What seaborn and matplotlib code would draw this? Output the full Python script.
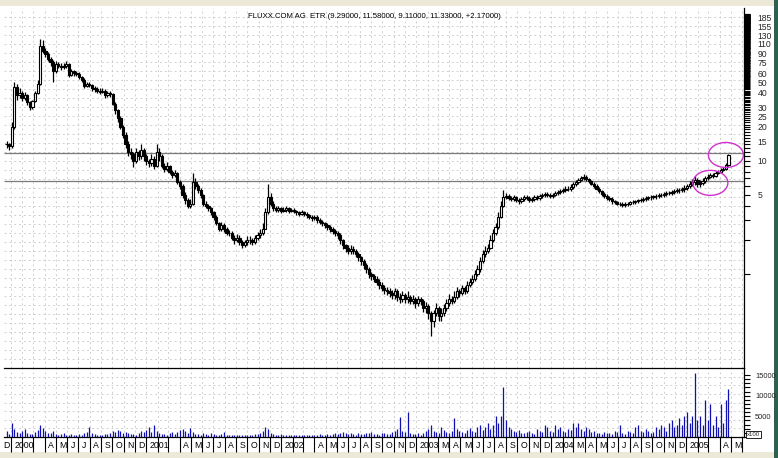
import matplotlib
matplotlib.use("Agg")
import matplotlib.pyplot as plt
import matplotlib.transforms as mtransforms
from matplotlib.patches import Ellipse, Rectangle
from matplotlib.ticker import FixedLocator, FixedFormatter, NullFormatter
import pandas as pd
import seaborn as sns

title = "FLUXX.COM AG  ETR (9.29000, 11.58000, 9.11000, 11.33000, +2.17000)"
first_week = "1999-12-20"

# weekly closes (last bar from the title line)
closes = [
    14, 13.5, 20, 45, 38, 40, 36, 38, 33, 30,
    34, 40, 48, 105, 95, 88, 80, 75, 62, 72,
    70, 68, 70, 72, 58, 62, 60, 59, 55, 52,
    46, 48, 47, 44, 43, 42, 41, 42, 38, 40,
    39, 32, 28, 24, 20, 17, 14, 12, 11.5, 10,
    12, 11, 12.5, 11, 10, 9.5, 10.5, 9, 12, 11,
    9, 8.5, 9, 8, 7.5, 7.8, 6.5, 6, 5, 4.5,
    4, 4.2, 6.5, 6, 5.5, 5, 4.2, 4, 3.8, 3.5,
    3.2, 2.8, 2.5, 2.7, 2.5, 2.3, 2.3, 2.1, 2.0, 2.1,
    1.9, 1.8, 1.9, 2.0, 2.0, 1.9, 2.1, 2.2, 2.3, 2.5,
    3.5, 4.8, 4.2, 3.8, 3.7, 3.8, 3.6, 3.7, 3.8, 3.6,
    3.7, 3.6, 3.5, 3.4, 3.5, 3.4, 3.3, 3.2, 3.1, 3.2,
    3.0, 2.9, 2.8, 2.7, 2.6, 2.5, 2.4, 2.3, 2.2, 2.0,
    1.8, 1.7, 1.6, 1.65, 1.6, 1.5, 1.4, 1.3, 1.2, 1.1,
    1.0, 0.95, 0.9, 0.85, 0.8, 0.75, 0.72, 0.7, 0.68, 0.65,
    0.7, 0.62, 0.6, 0.65, 0.6, 0.62, 0.58, 0.6, 0.55, 0.6,
    0.58, 0.5, 0.52, 0.45, 0.38, 0.45, 0.5, 0.42, 0.45, 0.5,
    0.55, 0.6, 0.58, 0.62, 0.7, 0.68, 0.75, 0.7, 0.8, 0.85,
    0.9, 1.0, 1.1, 1.3, 1.5, 1.6, 1.7, 2.0, 2.3, 2.6,
    3.2, 4.0, 4.8, 4.9, 4.7, 4.6, 4.8, 4.5, 4.4, 4.6,
    4.8, 4.7, 4.5, 4.6, 4.8, 4.7, 4.9, 5.0, 5.1, 5.0,
    4.9, 5.0, 5.2, 5.3, 5.4, 5.5, 5.7, 5.6, 5.9, 6.2,
    6.5, 6.8, 7.0, 7.2, 6.9, 6.6, 6.3, 6.0, 5.7, 5.4,
    5.1, 4.9, 4.7, 4.6, 4.4, 4.3, 4.2, 4.15, 4.1, 4.15,
    4.2, 4.3, 4.35, 4.4, 4.5, 4.55, 4.6, 4.7, 4.75, 4.8,
    4.85, 4.9, 5.0, 5.0, 5.1, 5.2, 5.2, 5.3, 5.4, 5.5,
    5.5, 5.6, 5.8, 6.0, 6.3, 6.5, 6.8, 6.2, 6.4, 6.6,
    7.0, 7.2, 7.5, 7.4, 7.8, 8.0, 8.3, 8.5, 9.16, 11.33,
]

highs = [
    15, 14.5, 22, 50, 48, 44, 42, 41, 39, 34,
    35, 42, 52, 120, 118, 100, 92, 84, 78, 76,
    75, 73, 74, 76, 74, 65, 64, 63, 61, 57,
    54, 50, 50, 48, 46, 45, 44, 44, 43, 42,
    42, 40, 33, 29, 25, 21, 18, 15, 13, 12,
    13, 12.5, 14, 13, 11.5, 10.5, 11.5, 11, 14, 13,
    11.5, 9.5, 9.8, 9.3, 8.3, 8.4, 8, 6.8, 6.2, 5.3,
    4.7, 4.6, 7.8, 7, 6.3, 5.8, 5.1, 4.4, 4.2, 3.9,
    3.6, 3.3, 2.9, 2.9, 2.8, 2.6, 2.45, 2.4, 2.2, 2.25,
    2.2, 2.0, 2.0, 2.15, 2.15, 2.1, 2.2, 2.35, 2.5, 2.8,
    3.8, 6.2, 5.2, 4.4, 4.0, 4.0, 3.95, 3.9, 4.0, 3.9,
    3.85, 3.8, 3.7, 3.6, 3.65, 3.6, 3.5, 3.4, 3.3, 3.35,
    3.3, 3.1, 3.0, 2.9, 2.8, 2.7, 2.6, 2.5, 2.4, 2.3,
    2.05, 1.85, 1.8, 1.8, 1.75, 1.65, 1.55, 1.45, 1.35, 1.25,
    1.15, 1.05, 1.0, 0.95, 0.9, 0.85, 0.8, 0.77, 0.75, 0.72,
    0.75, 0.73, 0.68, 0.7, 0.68, 0.7, 0.65, 0.65, 0.63, 0.64,
    0.63, 0.6, 0.56, 0.54, 0.47, 0.48, 0.55, 0.52, 0.5, 0.54,
    0.6, 0.66, 0.64, 0.7, 0.76, 0.74, 0.8, 0.78, 0.86, 0.92,
    0.98, 1.08, 1.2, 1.4, 1.62, 1.75, 1.85, 2.2, 2.5, 2.85,
    3.5, 4.4, 5.5, 5.2, 5.1, 4.9, 5.0, 4.9, 4.7, 4.8,
    5.0, 5.0, 4.85, 4.8, 5.0, 5.0, 5.1, 5.2, 5.35, 5.3,
    5.2, 5.2, 5.45, 5.55, 5.65, 5.8, 6.0, 5.95, 6.2, 6.5,
    6.8, 7.1, 7.4, 7.6, 7.5, 7.1, 6.8, 6.5, 6.2, 5.9,
    5.55, 5.3, 5.05, 4.9, 4.75, 4.55, 4.45, 4.35, 4.3, 4.3,
    4.35, 4.45, 4.5, 4.55, 4.65, 4.7, 4.75, 4.85, 4.9, 5.0,
    5.0, 5.1, 5.2, 5.2, 5.3, 5.4, 5.45, 5.5, 5.6, 5.75,
    5.75, 5.85, 6.1, 6.3, 6.7, 6.9, 7.3, 7.1, 6.8, 7.0,
    7.4, 7.6, 7.9, 7.8, 8.1, 8.3, 8.6, 8.9, 9.5, 11.58,
]

lows = [
    13, 12.5, 13, 19, 35, 36, 34, 35, 31, 28,
    29, 33, 39, 47, 90, 84, 76, 70, 50, 60,
    66, 64, 65, 67, 55, 56, 57, 56, 53, 50,
    44, 45, 45, 42, 41, 40, 39, 40, 36, 37,
    37, 31, 26, 22, 19, 16, 13, 11, 10.5, 8.8,
    9.5, 10.2, 10.5, 10, 9.2, 8.8, 9, 8.5, 8.8, 10,
    8.6, 8, 8.2, 7.6, 7, 7.2, 6.2, 5.6, 4.7, 4.2,
    3.8, 3.8, 4.1, 5.6, 5.2, 4.7, 4.0, 3.8, 3.6, 3.3,
    3.0, 2.7, 2.4, 2.4, 2.35, 2.2, 2.15, 2.0, 1.85, 1.9,
    1.8, 1.7, 1.72, 1.8, 1.85, 1.8, 1.85, 2.0, 2.1, 2.2,
    2.5, 3.4, 4.0, 3.6, 3.5, 3.55, 3.45, 3.5, 3.55, 3.45,
    3.5, 3.45, 3.35, 3.25, 3.3, 3.25, 3.15, 3.05, 2.95, 3.0,
    2.85, 2.75, 2.65, 2.55, 2.45, 2.35, 2.25, 2.15, 2.05, 1.85,
    1.65, 1.55, 1.5, 1.5, 1.5, 1.4, 1.3, 1.2, 1.1, 1.02,
    0.92, 0.88, 0.84, 0.8, 0.74, 0.7, 0.67, 0.65, 0.63, 0.6,
    0.6, 0.58, 0.55, 0.56, 0.55, 0.55, 0.54, 0.54, 0.5, 0.52,
    0.53, 0.46, 0.45, 0.4, 0.28, 0.34, 0.42, 0.38, 0.38, 0.42,
    0.47, 0.52, 0.54, 0.55, 0.6, 0.63, 0.65, 0.66, 0.68, 0.77,
    0.82, 0.87, 0.96, 1.05, 1.25, 1.42, 1.52, 1.65, 1.9, 2.2,
    2.5, 3.1, 3.9, 4.6, 4.5, 4.4, 4.4, 4.3, 4.2, 4.25,
    4.45, 4.5, 4.35, 4.35, 4.45, 4.5, 4.55, 4.7, 4.8, 4.8,
    4.7, 4.7, 4.85, 5.0, 5.1, 5.2, 5.3, 5.4, 5.4, 5.7,
    6.0, 6.3, 6.6, 6.8, 6.7, 6.4, 6.1, 5.8, 5.5, 5.2,
    4.9, 4.7, 4.5, 4.4, 4.2, 4.15, 4.05, 4.0, 3.95, 3.95,
    4.0, 4.05, 4.15, 4.2, 4.25, 4.3, 4.35, 4.4, 4.5, 4.55,
    4.6, 4.6, 4.7, 4.8, 4.8, 4.9, 5.0, 5.0, 5.1, 5.2,
    5.25, 5.3, 5.35, 5.5, 5.8, 6.0, 6.1, 5.9, 5.9, 6.1,
    6.4, 6.8, 7.0, 7.1, 7.2, 7.6, 7.8, 8.1, 8.3, 9.11,
]

volumes = [
    1500, 800, 3500, 2000, 1200, 900, 1500, 2000, 1000, 800,
    700, 1200, 1800, 3000, 2200, 1500, 1000, 900, 1500, 800,
    600, 700, 900, 600, 500, 800, 600, 500, 700, 600,
    900, 1200, 2500, 1000, 700, 600, 500, 600, 800, 700,
    900, 1500, 1200, 1800, 1400, 1000, 1300, 900, 700, 800,
    600, 900, 1500, 1200, 1800, 2500, 1300, 3000, 1500, 900,
    700, 800, 600, 900, 1100, 800, 1200, 1600, 2000, 1400,
    1000, 2200, 1300, 800, 700, 600, 900, 700, 600, 1000,
    800, 600, 500, 700, 1200, 600, 500, 400, 600, 500,
    400, 500, 600, 400, 500, 600, 700, 800, 1000, 1500,
    2500, 2000, 1000, 800, 600, 500, 700, 600, 500, 400,
    500, 400, 600, 500, 400, 500, 600, 400, 500, 600,
    500, 700, 600, 500, 800, 600, 700, 900, 800, 1000,
    1200, 900, 800, 1000, 700, 600, 900, 800, 700, 1000,
    900, 1200, 800, 700, 600, 900, 1000, 800, 700, 1200,
    1500, 2000, 4800, 1500, 1200, 6000, 1000, 800, 700, 900,
    600, 1000, 1500, 2000, 3000, 1500, 1200, 1000, 2500, 1800,
    1200, 1000, 1500, 4500, 2000, 1500, 1200, 1000, 1800, 2200,
    1500, 1200, 2500, 3000, 1800, 2500, 3500, 2000, 3000, 5000,
    3500, 5000, 12000, 4000, 2500, 2000, 1500, 1200, 1800, 1000,
    900, 1200, 1500, 1000, 800, 2000, 1500, 1200, 3000, 2500,
    1500, 1200, 3000, 2000, 2500, 1500, 1200, 2000, 1800, 3500,
    2500, 3500, 2000, 1500, 2500, 2000, 1200, 1500, 1000, 900,
    800, 1200, 1000, 900, 700, 1500, 1200, 3000, 1000, 800,
    1500, 1200, 1000, 2500, 3000, 1500, 1200, 2000, 1500, 1000,
    1200, 2500, 2000, 3000, 2500, 1500, 3500, 4000, 2500, 3000,
    4500, 3000, 5000, 6000, 3500, 5000, 15500, 4000, 5000, 3000,
    9000, 4000, 8000, 3000, 5000, 2500, 8000, 3500, 9000, 11500,
]

price_labels = [5, 10, 15, 20, 25, 30, 40, 50, 60, 75, 90, 110, 130, 155, 185]
ref_lines = [11.8, 6.65]
volume_labels = [5000, 10000, 15000]

month_labels = {
    "1999-12": "D",
    "2000-01": "2000", "2000-04": "A", "2000-05": "M", "2000-06": "J", "2000-07": "J",
    "2000-08": "A", "2000-09": "S", "2000-10": "O", "2000-11": "N", "2000-12": "D",
    "2001-01": "2001", "2001-04": "A", "2001-05": "M", "2001-06": "J", "2001-07": "J",
    "2001-08": "A", "2001-09": "S", "2001-10": "O", "2001-11": "N", "2001-12": "D",
    "2002-01": "2002", "2002-04": "A", "2002-05": "M", "2002-06": "J", "2002-07": "J",
    "2002-08": "A", "2002-09": "S", "2002-10": "O", "2002-11": "N", "2002-12": "D",
    "2003-01": "2003", "2003-03": "M", "2003-04": "A", "2003-05": "M", "2003-06": "J",
    "2003-07": "J", "2003-08": "A", "2003-09": "S", "2003-10": "O", "2003-11": "N", "2003-12": "D",
    "2004-01": "2004", "2004-03": "M", "2004-04": "A", "2004-05": "M", "2004-06": "J",
    "2004-07": "J", "2004-08": "A", "2004-09": "S", "2004-10": "O", "2004-11": "N", "2004-12": "D",
    "2005-01": "2005", "2005-04": "A", "2005-05": "M",
}

# circled areas: (centre date, centre price)
circles = [("2005-03-07", 6.4), ("2005-04-18", 11.3)]

sns.set_theme(style="white")
plt.rcParams["font.family"] = ["Liberation Sans", "DejaVu Sans"]

weeks = pd.date_range(first_week, periods=len(closes), freq="7D")
df = pd.DataFrame({"date": weeks, "close": closes, "high": highs, "low": lows, "volume": volumes})
df["open"] = df["close"].shift(1).fillna(df["close"])
df.loc[df.index[-1], "open"] = 9.29
df["up"] = df["close"] >= df["open"]

fig = plt.figure(figsize=(7.78, 4.58), dpi=100, facecolor="#ece9d8")
# white chart panel behind everything, dark border strip at the right
fig.add_artist(Rectangle((0, 6 / 458), 774 / 778, 446 / 458, transform=fig.transFigure,
                         facecolor="white", edgecolor="none", zorder=-5))
fig.add_artist(Rectangle((774 / 778, 0), 4 / 778, 1, transform=fig.transFigure,
                         facecolor="#2f5f4f", edgecolor="none", zorder=-5))

ax = fig.add_axes([4 / 778, 1 - 368 / 458, 740 / 778, 360 / 458])
axv = fig.add_axes([4 / 778, 1 - 437 / 458, 740 / 778, 69 / 458], sharex=ax)

xmin, xmax = pd.Timestamp("1999-12-13"), pd.Timestamp("2005-06-06")
months = pd.date_range("1999-12-01", "2005-06-01", freq="MS")

grid_kw = dict(color="#cfcfcf", linestyle=(0, (2, 3)), linewidth=0.7, zorder=0)
for a in (ax, axv):
    a.set_facecolor("white")
    for s in a.spines.values():
        s.set_visible(False)
    a.spines["right"].set_visible(True)
    a.spines["right"].set_color("black")
    a.spines["right"].set_linewidth(0.9)
    a.vlines(months, 0, 1, transform=a.get_xaxis_transform(), **grid_kw)

# price panel
ax.set_yscale("log")
ax.set_ylim(0.147, 226)
ax.hlines([i / 40 for i in range(1, 40)], 0, 1, transform=ax.transAxes, **grid_kw)
ax.hlines(ref_lines, xmin, xmax, color="#7a7a7a", linewidth=0.9, zorder=1)

body = pd.Timedelta(days=6)
ax.vlines(df["date"], df["low"], df["high"], color="black", linewidth=0.9, zorder=2)
up = df[df["up"]]
dn = df[~df["up"]]
ax.bar(up["date"], up["close"] - up["open"], bottom=up["open"], width=body,
       facecolor="white", edgecolor="black", linewidth=0.8, zorder=3)
ax.bar(dn["date"], dn["open"] - dn["close"], bottom=dn["close"], width=body,
       facecolor="black", edgecolor="black", linewidth=0.8, zorder=3)

ax.yaxis.tick_right()
ax.yaxis.set_major_locator(FixedLocator(price_labels))
ax.yaxis.set_major_formatter(FixedFormatter([str(v) for v in price_labels]))
ax.yaxis.set_minor_locator(FixedLocator(list(range(1, 200))))
ax.yaxis.set_minor_formatter(NullFormatter())
ax.tick_params(axis="y", which="both", right=True, left=False, direction="out",
               length=4, width=0.8, color="black", labelsize=6.2, pad=6)
ax.tick_params(axis="x", which="both", bottom=False, labelbottom=False)

ax.text(0.5, 0.985, title, transform=ax.transAxes, ha="center", va="top",
        fontsize=5.6, color="black")

for cdate, cprice in circles:
    tr = fig.dpi_scale_trans + mtransforms.ScaledTranslation(
        pd.Timestamp(cdate).toordinal() - pd.Timestamp("1970-01-01").toordinal(), cprice, ax.transData)
    ax.add_patch(Ellipse((0, 0), 0.35, 0.25, transform=tr, fill=False,
                         edgecolor="#d030d0", linewidth=1.0, zorder=5))

# volume panel
axv.hlines([i / 8 for i in range(1, 8)], 0, 1, transform=axv.transAxes, **grid_kw)
axv.vlines(df["date"], 0, df["volume"], color="#1010b0", linewidth=0.9, zorder=3)
axv.set_ylim(0, 16700)
for side in ("top", "bottom"):
    axv.spines[side].set_visible(True)
    axv.spines[side].set_color("black")
    axv.spines[side].set_linewidth(0.9)
axv.yaxis.tick_right()
axv.yaxis.set_major_locator(FixedLocator(volume_labels))
axv.yaxis.set_minor_locator(FixedLocator(list(range(0, 16000, 1000))))
axv.yaxis.set_minor_formatter(NullFormatter())
axv.tick_params(axis="y", which="both", right=True, left=False, direction="out",
                length=4, width=0.8, color="black", labelsize=5.4, pad=4)

axv.set_xticks(months)
axv.set_xticklabels([])
axv.tick_params(axis="x", which="both", bottom=True, direction="out", length=11,
                width=0.8, color="black")
axv.set_xlim(xmin, xmax)

lab_tr = mtransforms.offset_copy(axv.get_xaxis_transform(), fig=fig, x=2.5, y=-3, units="points")
for key, txt in month_labels.items():
    axv.text(pd.Timestamp(key + "-01"), 0, txt, transform=lab_tr, ha="left", va="top",
             fontsize=6.3, color="black")

axv.text(1.004, 0.0, "x100", transform=axv.transAxes, ha="left", va="bottom", fontsize=4.3,
         bbox=dict(boxstyle="square,pad=0.15", facecolor="white", edgecolor="black", linewidth=0.6))

fig.savefig("out.png", dpi=100, facecolor=fig.get_facecolor())
